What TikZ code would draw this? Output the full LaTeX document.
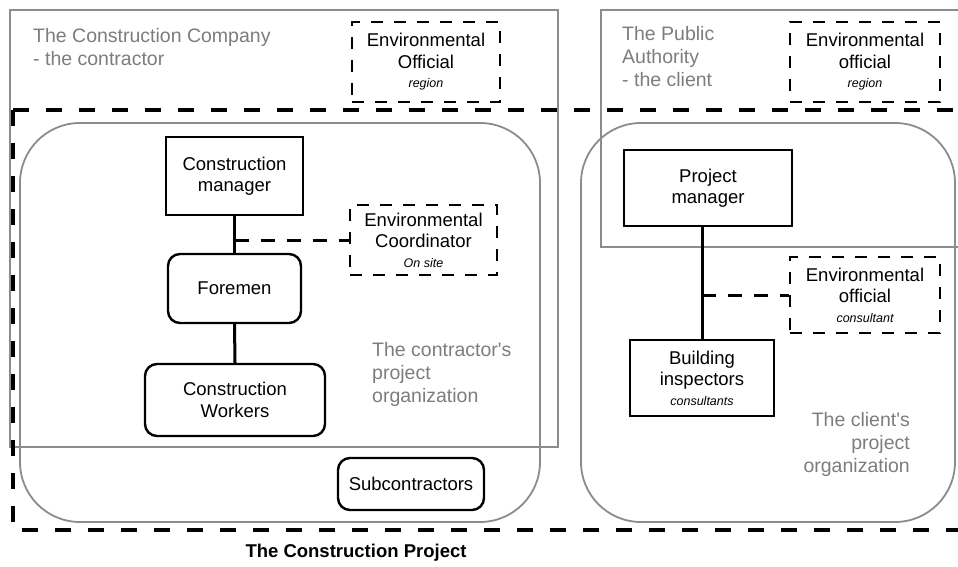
\documentclass[tikz,border=0pt]{standalone}
\usepackage{fontspec}
\setmainfont{Liberation Sans}
\definecolor{graybox}{RGB}{140,140,140}
\definecolor{graytxt}{RGB}{125,125,125}
\newcommand{\subnote}[1]{{\fontsize{12.5}{14}\selectfont\itshape #1}}
\begin{document}
\begin{tikzpicture}[x=1pt,y=-1pt,
  frame/.style={draw=graybox, line width=1.8pt},
  org/.style={draw=graybox, line width=1.8pt, rounded corners=60pt},
  boxtext/.style={align=center, inner sep=0pt, font=\fontsize{18.5}{21.5}\selectfont},
  solidbox/.style={boxtext, draw=black, line width=2.4pt},
  roundbox/.style={solidbox, rounded corners=12pt},
  envbox/.style={boxtext, draw=black, line width=2.4pt, dash pattern=on 12pt off 11pt},
  graytext/.style={text=graytxt, inner sep=0pt, font=\fontsize{19.5}{23}\selectfont},
  link/.style={line width=3pt},
  dlink/.style={line width=3pt, dash pattern=on 14pt off 12pt},
  bigdash/.style={line width=4pt, dash pattern=on 16pt off 17pt}
]
\useasboundingbox (0,0) rectangle (958,567);
\fill[white] (0,0) rectangle (958,567);

% outer frames
\draw[frame] (10,10) rectangle (558,447);
\draw[frame] (960,10) -- (601,10) -- (601,247) -- (960,247);

% construction project dashed frame
\draw[bigdash] (13,110) -- (962,110);
\draw[bigdash] (13,110) -- (13,530) -- (962,530);

% project organizations
\draw[org] (20,123) rectangle (540,522);
\draw[org] (581,123) rectangle (955,522);

% gray texts
\node[graytext, align=left, anchor=north west] (company) at (33,28) {The Construction Company\\- the contractor};
\node[graytext, align=left, anchor=north west] (authority) at (622,26) {The Public\\Authority\\- the client};
\node[graytext, align=left, anchor=north west] (corg) at (372,342) {The contractor\textquotesingle s\\project\\organization};
\node[graytext, align=right, anchor=north east] (clorg) at (910,412) {The client\textquotesingle s\\project\\organization};

% environmental officials
\node[envbox, minimum width=148pt, minimum height=80pt] (envl) at (426,62) {Environmental\\Official\\[-2pt]\subnote{region}};
\node[envbox, minimum width=150pt, minimum height=80pt] (envr) at (865,62) {Environmental\\official\\[-2pt]\subnote{region}};

% contractor organization
\node[solidbox, minimum width=137pt, minimum height=78pt] (cm) at (234.5,176) {Construction\\manager};
\node[roundbox, minimum width=133pt, minimum height=69pt] (fm) at (234.5,288.5) {Foremen};
\node[roundbox, minimum width=180pt, minimum height=72pt] (cw) at (235,400) {Construction\\Workers};
\node[roundbox, minimum width=146pt, minimum height=52pt] (sub) at (411,484) {Subcontractors};
\node[envbox, minimum width=147pt, minimum height=70pt] (ec) at (423.5,240) {Environmental\\Coordinator\\[-2pt]\subnote{On site}};

\draw[link] (cm.south) -- (fm.north);
\draw[link] (fm.south) -- (cw.north);
\coordinate (cmj) at (cm.south |- ec.west);
\draw[dlink] (cmj) -- (ec.west);

% client organization
\node[solidbox, minimum width=168pt, minimum height=76pt] (pm) at (708,188) {Project\\manager};
\node[solidbox, minimum width=144pt, minimum height=76pt] (bi) at (702,378) {Building\\inspectors\\[-2pt]\subnote{consultants}};
\node[envbox, minimum width=150pt, minimum height=76pt] (eo) at (865,295) {Environmental\\official\\[-2pt]\subnote{consultant}};

\draw[link] (bi.north) -- (bi.north |- pm.south);
\coordinate (pmj) at (bi.north |- eo.west);
\draw[dlink] (pmj) -- (eo.west);

% title
\node[inner sep=0pt, font=\fontsize{18.5}{23}\selectfont\bfseries] (title) at (356,553) {The Construction Project};
\end{tikzpicture}
\end{document}
